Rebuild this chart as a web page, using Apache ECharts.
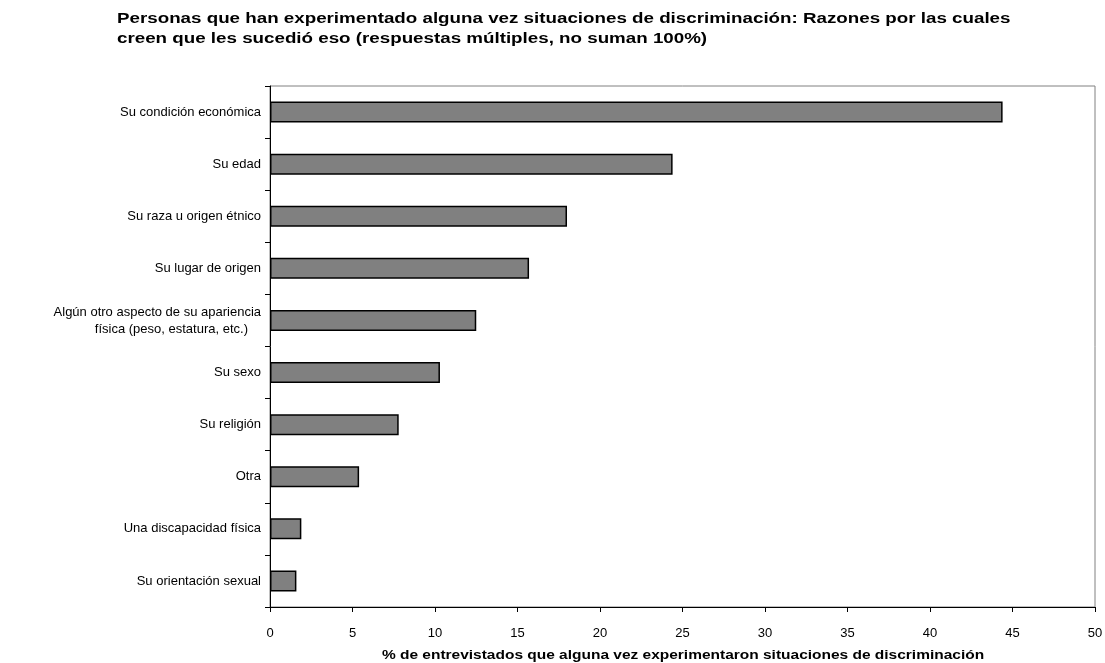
<!DOCTYPE html>
<html>
<head>
<meta charset="utf-8">
<script src="https://cdn.jsdelivr.net/npm/echarts@6/dist/echarts.min.js"></script>
<style>html,body{margin:0;padding:0;background:#fff}#c{width:1105px;height:663px}</style>
</head>
<body>
<div id="c"></div>
<script>
const categories = [
  "Su condición económica",
  "Su edad",
  "Su raza u origen étnico",
  "Su lugar de origen",
  "Algún otro aspecto de su apariencia\nfísica (peso, estatura, etc.)",
  "Su sexo",
  "Su religión",
  "Otra",
  "Una discapacidad física",
  "Su orientación sexual"
];
const values = [44.4, 24.4, 18.0, 15.7, 12.5, 10.3, 7.8, 5.4, 1.9, 1.6];
const xTicks = [0, 5, 10, 15, 20, 25, 30, 35, 40, 45, 50];
const titleText = "Personas que han experimentado alguna vez situaciones de discriminación: Razones por las cuales\ncreen que les sucedió eso (respuestas múltiples, no suman 100%)";
const xName = "% de entrevistados que alguna vez experimentaron situaciones de discriminación";

const chart = echarts.init(document.getElementById('c'), null, {renderer: 'canvas'});
const font = "'Liberation Sans', Arial, sans-serif";
chart.setOption({
  animation: false,
  backgroundColor: '#fff',
  graphic: [
    {
      type: 'text', x: 117, y: 9, scaleX: 1.34,
      style: {
        text: titleText, fontFamily: font, fontSize: 14, fontWeight: 'bold',
        fill: '#000', lineHeight: 20, textAlign: 'left', textVerticalAlign: 'top'
      }
    },
    {
      type: 'text', x: 683, y: 650, scaleX: 1.29,
      style: {
        text: xName, fontFamily: font, fontSize: 12, fontWeight: 'bold',
        fill: '#000', textAlign: 'center', textVerticalAlign: 'top'
      }
    }
  ],
  grid: {
    left: 270, right: 10, top: 86, bottom: 56,
    outerBoundsMode: 'none', containLabel: false,
    show: true, borderColor: '#808080', borderWidth: 1, backgroundColor: '#fff'
  },
  xAxis: {
    type: 'value',
    min: xTicks[0], max: xTicks[xTicks.length - 1], interval: 5,
    splitLine: {show: false},
    axisLine: {show: true, lineStyle: {color: '#000', width: 1}},
    axisTick: {show: true, length: 5, lineStyle: {color: '#000'}},
    axisLabel: {margin: 20, fontFamily: font, fontSize: 13, color: '#000'}
  },
  yAxis: {
    type: 'category',
    data: categories,
    inverse: true,
    axisLine: {show: true, lineStyle: {color: '#000', width: 1}},
    axisTick: {show: true, length: 5, alignWithLabel: false, lineStyle: {color: '#000'}},
    axisLabel: {
      margin: 9, fontFamily: font, fontSize: 13, color: '#000', lineHeight: 17,
      formatter: function (v) {
        if (v.indexOf('\n') >= 0) {
          const p = v.split('\n');
          return '{a|' + p[0] + '}\n{b|' + p[1] + '}';
        }
        return v;
      },
      rich: {
        a: {fontFamily: font, fontSize: 13, color: '#000', lineHeight: 17},
        b: {fontFamily: font, fontSize: 13, color: '#000', lineHeight: 17, padding: [0, 13, 0, 0]}
      }
    }
  },
  series: [{
    type: 'bar',
    data: values,
    barWidth: 21,
    itemStyle: {color: '#808080', borderColor: '#000', borderWidth: 1.5}
  }]
});
</script>
</body>
</html>
